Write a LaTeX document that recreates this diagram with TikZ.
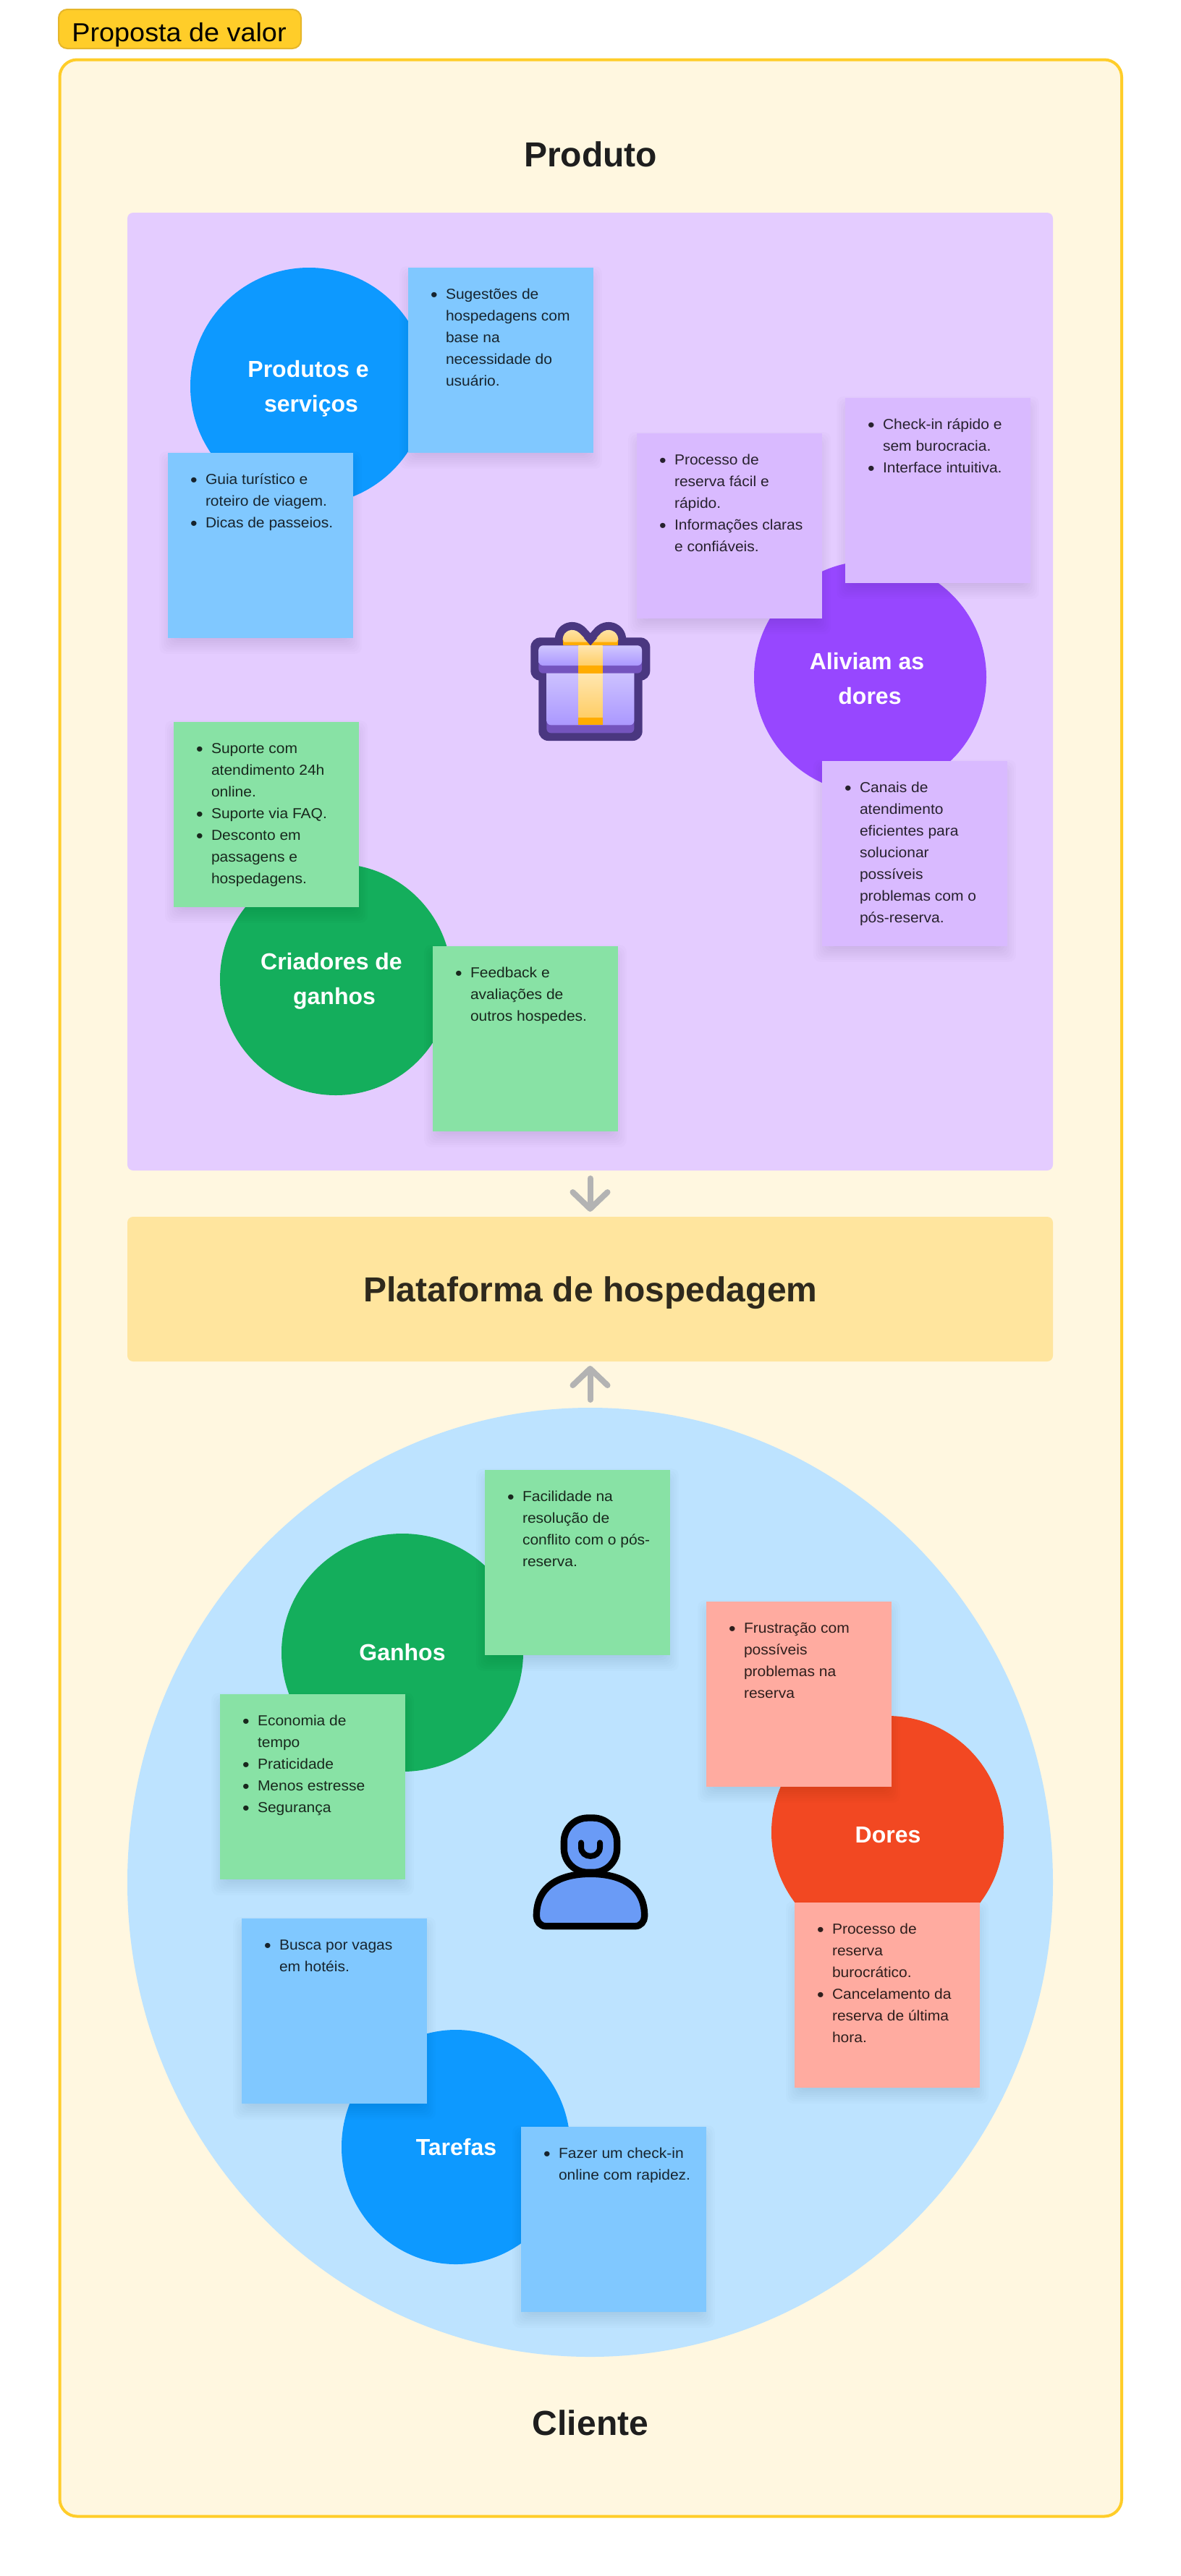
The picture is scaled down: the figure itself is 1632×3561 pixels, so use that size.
\documentclass[tikz,border=0pt]{standalone}
\usepackage{fontspec}
\setmainfont{Liberation Sans}[FakeStretch=1.05,BoldFeatures={FakeStretch=1.0}]
\usetikzlibrary{calc,shapes.geometric,arrows.meta}
\definecolor{cframe}{HTML}{FFCD29}
\definecolor{ctagline}{HTML}{E6B62A}
\definecolor{cbg}{HTML}{FFF7E0}
\definecolor{cpanel}{HTML}{E4CCFF}
\definecolor{cplat}{HTML}{FFE59E}
\definecolor{ccli}{HTML}{BDE3FF}
\definecolor{cblue}{HTML}{0D99FF}
\definecolor{cpurple}{HTML}{9747FF}
\definecolor{cgreen}{HTML}{14AE5C}
\definecolor{cred}{HTML}{F24822}
\definecolor{sblue}{HTML}{80C8FF}
\definecolor{spurple}{HTML}{D9BAFF}
\definecolor{sgreen}{HTML}{88E2A5}
\definecolor{sred}{HTML}{FFABA0}
\definecolor{cink}{HTML}{1E1E1E}
\definecolor{carrow}{HTML}{B3B3B3}
\definecolor{gdark}{HTML}{4A3780}
\definecolor{gmid}{HTML}{7454BE}
\definecolor{glight}{HTML}{D0C6FF}
\definecolor{glow}{HTML}{AB98FF}
\definecolor{rlight}{HTML}{FFE6B0}
\definecolor{rlow}{HTML}{FFCE66}
\definecolor{rorange}{HTML}{FFAC00}
\definecolor{pfill}{HTML}{6A9BF6}
\tikzset{
  stickybox/.style={rectangle,draw=none,inner sep=0pt,outer sep=0pt,minimum width=128pt,minimum height=128pt,anchor=north west},
  stickytext/.style={anchor=north west,inner sep=0pt,outer sep=0pt,align=left,font=\fontsize{10}{15}\selectfont,text=black,text opacity=.82},
  blob/.style={ellipse,draw=none,inner sep=0pt,outer sep=0pt},
  blobtext/.style={inner sep=0pt,outer sep=0pt,align=center,text=white,font=\bfseries\fontsize{16}{24}\selectfont},
  titletext/.style={inner sep=0pt,outer sep=0pt,text=cink,anchor=base,font=\bfseries\fontsize{24}{30}\selectfont},
  flowarrow/.style={draw=carrow,line width=4pt,line cap=round,-{Straight Barb[round,length=11.5pt,width=24pt]}},
}
\newcommand{\bu}{\strut\llap{\raisebox{-1.6pt}{\fontsize{13}{15}\selectfont •}\hspace{5.7pt}}}
% name, x, y, colour, text
\newcommand{\sticky}[5]{%
  \foreach \s in {-12,-9,...,12}
    \fill[black,opacity=.012,rounded corners=5pt] ({#2-\s},{#3+10-\s}) rectangle ({#2+256+\s},{#3+266+\s});
  \node[stickybox,fill=#4] (#1) at (#2,#3) {};
  \node[stickytext] (#1t) at ($(#1.north west)+(52,22)$) {#5};
}
\begin{document}
\begin{tikzpicture}[x=0.5pt,y=-0.5pt]
\useasboundingbox (0,0) rectangle (1632,3561);
\fill[white] (0,0) rectangle (1632,3561);

% frame and tag
\node[rectangle,rounded corners=6pt,draw=ctagline,line width=1pt,fill=cframe,outer sep=0pt,minimum width=167.5pt,minimum height=27pt,anchor=north west,inner sep=0pt] (tag) at (81,13) {};
\node[anchor=base west,inner sep=0pt,text=black,font=\fontsize{18}{22}\selectfont] (tagt) at (99,57.5) {Proposta de valor};
\node[rectangle,rounded corners=12pt,draw=cframe,line width=2pt,fill=cbg,outer sep=0pt,minimum width=733.75pt,minimum height=1698pt,anchor=north west,inner sep=0pt] (frame) at (82.5,82.5) {};

% main panels
\node[titletext] (tprod) at (816,230) {Produto};
\node[rectangle,rounded corners=4pt,fill=cpanel,minimum width=639.5pt,minimum height=662pt,anchor=north west,inner sep=0pt,outer sep=0pt] (panel) at (176,294) {};
\node[rectangle,rounded corners=4pt,fill=cplat,minimum width=639.5pt,minimum height=100pt,anchor=north west,inner sep=0pt,outer sep=0pt] (plat) at (176,1682) {};
\node[anchor=base,inner sep=0pt,text=black!82!cplat,font=\bfseries\fontsize{24}{30}\selectfont] (platt) at (816,1799) {Plataforma de hospedagem};
\node[blob,fill=ccli,minimum width=639.5pt,minimum height=656pt] (cli) at (815.5,2602) {};
\node[titletext] (tcli) at (816,3366) {Cliente};

% arrows
\draw[flowarrow,shorten <=5.5pt,shorten >=3.5pt] (panel.south) -- (plat.north);
\draw[flowarrow,shorten <=5.5pt,shorten >=3pt] (cli.north) -- (plat.south);

% circles of the product panel
\node[blob,fill=cblue,minimum width=164pt,minimum height=164pt] (c1) at (427,534) {};
\node[blob,fill=cpurple,minimum width=160.5pt,minimum height=160.5pt] (c2) at (1202.5,936) {};
\node[blob,fill=cgreen,minimum width=160pt,minimum height=160pt] (c3) at (464,1354) {};
\node[blobtext,anchor=north] (c1t) at (430,487.4) {\strut Produtos e\hspace*{4pt}\\serviços};
\node[blobtext,anchor=north] (c2t) at (1202,891.4) {\strut Aliviam as\hspace*{4pt}\\dores};
\node[blobtext,anchor=north] (c3t) at (462,1306.4) {\strut Criadores de\hspace*{4pt}\\ganhos};

% circles of the client
\node[blob,fill=cgreen,minimum width=167pt,minimum height=164.5pt] (c4) at (556,2284.5) {};
\node[blob,fill=cred,minimum width=160.5pt,minimum height=161pt] (c5) at (1226.5,2533) {};
\node[blob,fill=cblue,minimum width=158pt,minimum height=162pt] (c6) at (630,2968) {};
\node[blobtext,anchor=base] (c4t) at (556,2295) {Ganhos};
\node[blobtext,anchor=base] (c5t) at (1227,2547) {Dores};
\node[blobtext,anchor=base] (c6t) at (630.5,2979) {Tarefas};

% stickies
\sticky{s1}{564}{370}{sblue}{\bu Sugestões de\\hospedagens com\\base na\\necessidade do\\usuário.}
\sticky{s2}{232}{626}{sblue}{\bu Guia turístico e\\roteiro de viagem.\\\bu Dicas de passeios.}
\sticky{s3}{880}{599}{spurple}{\bu Processo de\\reserva fácil e\\rápido.\\\bu Informações claras\\e confiáveis.}
\sticky{s4}{1168}{550}{spurple}{\bu Check-in rápido e\\sem burocracia.\\\bu Interface intuitiva.}
\sticky{s5}{1136}{1052}{spurple}{\bu Canais de\\atendimento\\eficientes para\\solucionar\\possíveis\\problemas com o\\pós-reserva.}
\sticky{s6}{240}{998}{sgreen}{\bu Suporte com\\atendimento 24h\\online.\\\bu Suporte via FAQ.\\\bu Desconto em\\passagens e\\hospedagens.}
\sticky{s7}{598}{1308}{sgreen}{\bu Feedback e\\avaliações de\\outros hospedes.}
\sticky{s8}{670}{2032}{sgreen}{\bu Facilidade na\\resolução de\\conflito com o pós-\\reserva.}
\sticky{s9}{304}{2342}{sgreen}{\bu Economia de\\tempo\\\bu Praticidade\\\bu Menos estresse\\\bu Segurança}
\sticky{s10}{976}{2214}{sred}{\bu Frustração com\\possíveis\\problemas na\\reserva}
\sticky{s11}{1098}{2630}{sred}{\bu Processo de\\reserva\\burocrático.\\\bu Cancelamento da\\reserva de última\\hora.}
\sticky{s12}{334}{2652}{sblue}{\bu Busca por vagas\\em hotéis.}
\sticky{s13}{720}{2940}{sblue}{\bu Fazer um check-in\\online com rapidez.}

% gift icon
\begin{scope}[shift={(710,840)},x=0.16667pt,y=-0.16667pt]
  \draw[gdark,line width=11pt,line join=round] (318,155) -- (272,105) .. controls (245,80) and (205,95) .. (203,130) -- (205,157) -- (431,157) -- (433,130) .. controls (430,95) and (390,80) .. (362,105) -- cycle;
  \fill[gdark,rounded corners=6.6pt] (70,124) rectangle (565,302);
  \fill[gdark,rounded corners=6.6pt] (103,260) rectangle (533,552);
  \fill[rorange] (203,130) -- (205,157) -- (431,157) -- (433,130) -- cycle;
  \shade[top color=rlight,bottom color=rlow] (318,152) -- (272,105) .. controls (245,80) and (205,95) .. (203,130) -- (209,143) -- (427,143) -- (433,130) .. controls (430,95) and (390,80) .. (362,105) -- cycle;
  \fill[gdark] (318,157) -- (290,125) -- (346,125) -- cycle;
  \fill[gmid,rounded corners=3pt] (136,250) rectangle (499,520);
  \shade[top color=glight,bottom color=glow,rounded corners=3pt] (136,250) rectangle (499,487);
  \shade[top color=rlight,bottom color=rlow] (268,272) rectangle (368,455);
  \fill[rorange] (268,455) rectangle (368,487);
  \fill[gmid,rounded corners=3pt] (103,157) rectangle (531,272);
  \shade[top color=glight,bottom color=glow,rounded corners=3pt] (103,157) rectangle (531,240);
  \shade[top color=rlight,bottom color=rlow] (268,157) rectangle (368,240);
  \fill[rorange] (268,240) rectangle (368,272);
\end{scope}

% person icon
\begin{scope}[shift={(680,2450)},x=0.16667pt,y=-0.16667pt]
  \draw[black,fill=pfill,line width=4.67pt,rounded corners=16.5pt] (298,189) rectangle (518,415);
  \draw[black,line width=4pt,line cap=round] (369,292) -- (369,310) .. controls (369,360) and (447,360) .. (447,310) -- (447,292);
  \draw[black,fill=pfill,line width=4.67pt,line join=round] (222,638) -- (594,638) .. controls (616,638) and (632,618) .. (632,596) .. controls (632,465) and (526,421) .. (408,421) .. controls (290,421) and (184,465) .. (184,596) .. controls (184,618) and (200,638) .. (222,638) -- cycle;
\end{scope}
\end{tikzpicture}
\end{document}
